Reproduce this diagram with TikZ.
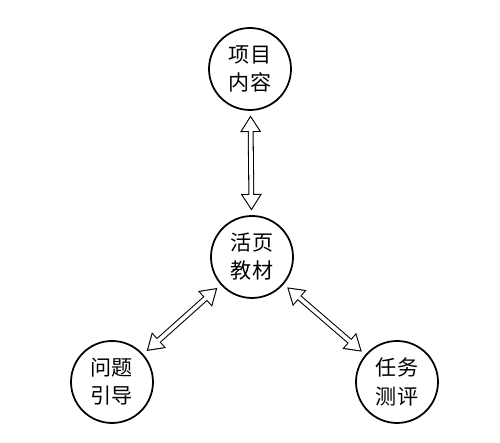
\documentclass[tikz,border=0pt]{standalone}
\usepackage{fontspec}
\newfontfamily\cjk{Noto Sans CJK SC}
\usetikzlibrary{arrows.meta}
\tikzset{ring/.style={draw, circle, line width=1.5pt, minimum size=2.46cm, inner sep=0pt, align=center, font=\cjk\fontsize{18}{24}\selectfont}}
\tikzset{link/.style={line width=5pt, >={Triangle[length=14pt,width=18pt,line width=0pt]}, <->, shorten <=4pt, shorten >=4pt,
  postaction={draw=white, line width=3.2pt, >={Triangle[length=11.4pt,width=14.6pt,line width=0pt,fill=white]}, <->, shorten <=5.7pt, shorten >=5.7pt}}}

\begin{document}
\begin{tikzpicture}
\useasboundingbox (0,0) rectangle (15,13.29);
\node[ring] (xm) at (7.5,11.22) {项目\\内容};
\node[ring] (hy) at (7.56,5.58) {活页\\教材};
\node[ring] (wt) at (3.36,1.83) {问题\\引导};
\node[ring] (rw) at (11.91,1.83) {任务\\测评};
\draw[link] (xm) to (hy);
\draw[link] (wt) to (hy);
\draw[link] (rw) to (hy);
\end{tikzpicture}
\end{document}
